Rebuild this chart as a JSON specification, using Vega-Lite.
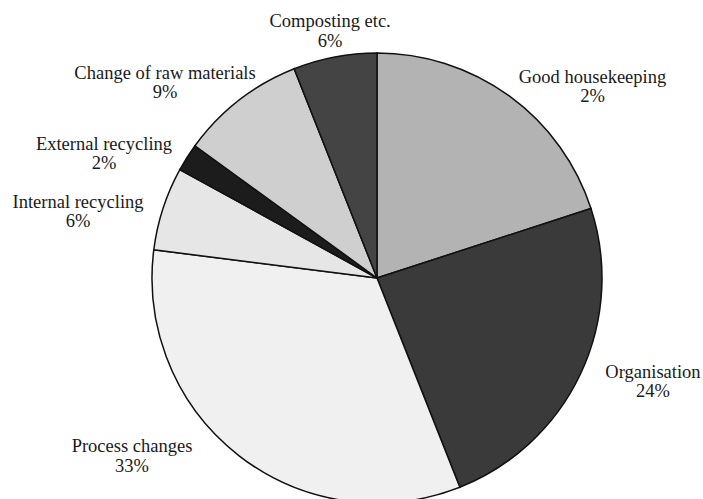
{
  "$schema": "https://vega.github.io/schema/vega-lite/v6.json",
  "width": 652,
  "height": 442,
  "autosize": "none",
  "padding": {"left": 51, "top": 57, "right": 0, "bottom": 0},
  "background": "white",
  "config": {
    "view": {"stroke": null},
    "text": {"align": "center", "baseline": "middle", "dy": -8, "font": "Liberation Serif", "fontSize": 18.5, "lineHeight": 19.5, "lineBreak": "\n", "color": "#1a1a1a"}
  },
  "data": {
    "values": [
      {"category": "Good housekeeping", "value": 20, "label": "Good housekeeping\n2%", "rank": 1},
      {"category": "Organisation", "value": 24, "label": "Organisation\n24%", "rank": 2},
      {"category": "Process changes", "value": 33, "label": "Process changes\n33%", "rank": 3},
      {"category": "Internal recycling", "value": 6, "label": "Internal recycling\n6%", "rank": 4},
      {"category": "External recycling", "value": 2, "label": "External recycling\n2%", "rank": 5},
      {"category": "Change of raw materials", "value": 9, "label": "Change of raw materials\n9%", "rank": 6},
      {"category": "Composting etc.", "value": 6, "label": "Composting etc.\n6%", "rank": 7}
    ]
  },
  "encoding": {
    "theta": {"field": "value", "type": "quantitative", "stack": true},
    "order": {"field": "rank", "type": "quantitative"},
    "detail": {"field": "category", "type": "nominal"}
  },
  "layer": [
    {
      "mark": {"type": "arc", "radius": 225, "stroke": "#111111", "strokeWidth": 1.5},
      "encoding": {
        "color": {
          "field": "category",
          "type": "nominal",
          "legend": null,
          "scale": {
            "domain": ["Good housekeeping", "Organisation", "Process changes", "Internal recycling", "External recycling", "Change of raw materials", "Composting etc."],
            "range": ["#b3b3b3", "#3a3a3a", "#f0f0f0", "#e6e6e6", "#1c1c1c", "#cfcfcf", "#444444"]
          }
        }
      }
    },
    {
      "mark": {"type": "text", "radius": 289.6, "thetaOffset": 0.2108},
      "encoding": {"text": {"condition": {"test": "datum.category == 'Good housekeeping'", "field": "label"}, "value": ""}}
    },
    {
      "mark": {"type": "text", "radius": 294.2, "thetaOffset": -0.0859},
      "encoding": {"text": {"condition": {"test": "datum.category == 'Organisation'", "field": "label"}, "value": ""}}
    },
    {
      "mark": {"type": "text", "radius": 301.7, "thetaOffset": 0.288},
      "encoding": {"text": {"condition": {"test": "datum.category == 'Process changes'", "field": "label"}, "value": ""}}
    },
    {
      "mark": {"type": "text", "radius": 306.7, "thetaOffset": -0.089},
      "encoding": {"text": {"condition": {"test": "datum.category == 'Internal recycling'", "field": "label"}, "value": ""}}
    },
    {
      "mark": {"type": "text", "radius": 300.9, "thetaOffset": -0.1316},
      "encoding": {"text": {"condition": {"test": "datum.category == 'External recycling'", "field": "label"}, "value": ""}}
    },
    {
      "mark": {"type": "text", "radius": 289.7, "thetaOffset": -0.1611},
      "encoding": {"text": {"condition": {"test": "datum.category == 'Change of raw materials'", "field": "label"}, "value": ""}}
    },
    {
      "mark": {"type": "text", "radius": 253, "thetaOffset": 0.002},
      "encoding": {"text": {"condition": {"test": "datum.category == 'Composting etc.'", "field": "label"}, "value": ""}}
    }
  ]
}
